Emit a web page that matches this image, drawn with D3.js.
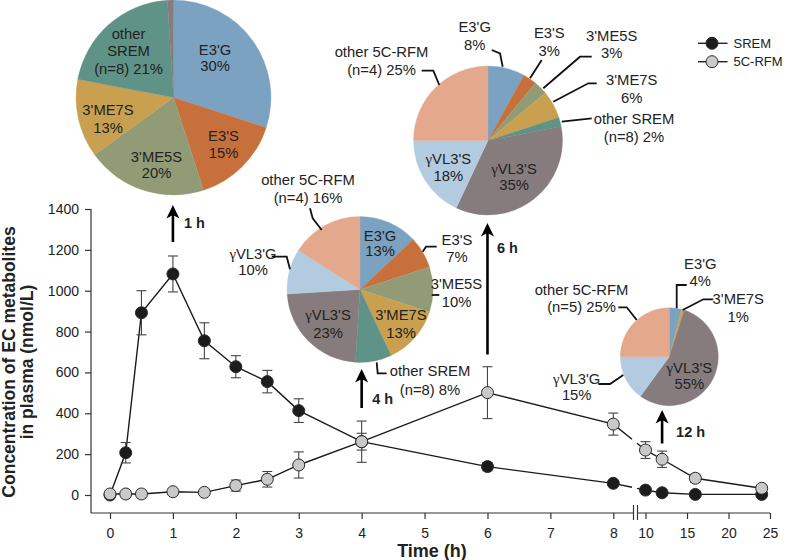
<!DOCTYPE html>
<html><head><meta charset="utf-8">
<script src="https://cdn.jsdelivr.net/npm/d3@7"></script>
<style>body{margin:0;background:#fff} text{font-family:"Liberation Sans",Arial,sans-serif;fill:#222}</style>
</head><body><svg id="c" width="787" height="560"></svg>
<script>
// ---------- DATA ----------
const timeH   = [0, 0.25, 0.5, 1, 1.5, 2, 2.5, 3, 4, 6, 8, 10, 12, 16, 24];
const sremMean = [0, 207, 892, 1082, 755, 628, 555, 413, 261, 139, 57, 24, 11, 3, 3];
const sremSD   = [0, 50, 108, 88, 88, 54, 55, 58, 41, 20, 12, 8, 5, 3, 3];
const rfmMean  = [5, 5, 5, 16, 13, 46, 77, 147, 261, 501, 347, 220, 175, 82, 33];
const rfmSD    = [0, 0, 0, 8, 8, 27, 38, 64, 101, 127, 54, 41, 40, 20, 8];

const yTicks  = [0, 200, 400, 600, 800, 1000, 1200, 1400];
const xTicksA = [0, 1, 2, 3, 4, 5, 6, 7, 8];
const xTicksB = [10, 15, 20, 25];

const metabolites = ["E3'G", "E3'S", "3'ME5S", "3'ME7S", "other SREM", "γVL3'S", "γVL3'G", "other 5C-RFM"];
const metaColors  = ["#7ca2c2", "#c8703c", "#919c76", "#c9a04f", "#5f9387", "#867c7d", "#b2cbe0", "#e4a88c"];

const pie1Keys   = ["E3'G", "E3'S", "3'ME5S", "3'ME7S", "other SREM", "γVL3'S"];
const pie1Values = [30, 15, 20, 13, 21, 1];
const pie4hKeys   = ["E3'G", "E3'S", "3'ME5S", "3'ME7S", "other SREM", "γVL3'S", "γVL3'G", "other 5C-RFM"];
const pie4hValues = [13, 7, 10, 13, 8, 23, 10, 16];
const pie6hKeys   = ["E3'G", "E3'S", "3'ME5S", "3'ME7S", "other SREM", "γVL3'S", "γVL3'G", "other 5C-RFM"];
const pie6hValues = [8, 3, 3, 6, 2, 35, 18, 25];
const pie12hKeys   = ["E3'G", "3'ME7S", "γVL3'S", "γVL3'G", "other 5C-RFM"];
const pie12hValues = [4, 1, 55, 15, 25];

const timepointLabels = ["1 h", "4 h", "6 h", "12 h"];
const timepoints = [1, 4, 6, 12];
const seriesNames = ["SREM", "5C-RFM"];

// ---------- SETUP ----------
const svg = d3.select("#c");
const color = d3.scaleOrdinal().domain(metabolites).range(metaColors);

const x1 = d3.scaleLinear().domain([0, 8]).range([110, 613.3]);
const x2 = d3.scaleLinear().domain([10, 25]).range([645.5, 770]);
const xPos = t => t <= 9 ? x1(t) : x2(t);
const y = d3.scaleLinear().domain([0, 1400]).range([495, 209]);
const axisY = 513, axisX = 91;
const brkL = 633.5, brkR = 637.5;

// ---------- AXES ----------
const ax = svg.append("g").attr("class", "axes");
const yAx = ax.append("g").attr("transform", `translate(${axisX},0)`)
  .call(d3.axisLeft(y).tickValues(yTicks).tickFormat(d3.format("d")).tickSize(6).tickPadding(6));
const xAxA = ax.append("g").attr("transform", `translate(0,${axisY})`)
  .call(d3.axisBottom(x1).tickValues(xTicksA).tickFormat(d3.format("d")).tickSize(6).tickPadding(9.5));
const xAxB = ax.append("g").attr("transform", `translate(0,${axisY})`)
  .call(d3.axisBottom(x2).tickValues(xTicksB).tickFormat(d3.format("d")).tickSize(6).tickPadding(9.5));
[yAx, xAxA, xAxB].forEach(g => {
  g.select(".domain").remove();
  g.selectAll(".tick line").attr("stroke", "#333").attr("stroke-width", 1.2);
  g.selectAll(".tick text").attr("font-size", 14).attr("fill", "#222")
   .attr("font-family", '"Liberation Sans",Arial,sans-serif');
});
const axLine = (x0, y0, x1_, y1_) => ax.append("line").attr("x1", x0).attr("y1", y0).attr("x2", x1_).attr("y2", y1_)
  .attr("stroke", "#333").attr("stroke-width", 1.2);
axLine(axisX, y(1400), axisX, axisY);
axLine(axisX, axisY, brkL, axisY);
axLine(brkR, axisY, x2(25), axisY);
axLine(brkL, axisY - 8, brkL, axisY + 7);
axLine(brkR, axisY - 8, brkR, axisY + 7);

// axis titles
svg.append("text").attr("transform", "translate(15,362) rotate(-90)")
  .attr("text-anchor", "middle").attr("font-weight", "bold").attr("font-size", 17.5).attr("fill", "#222")
  .text("Concentration of EC metabolites");
svg.append("text").attr("transform", "translate(33,362) rotate(-90)")
  .attr("text-anchor", "middle").attr("font-weight", "bold").attr("font-size", 17.5).attr("fill", "#222")
  .text("in plasma (nmol/L)");
svg.append("text").attr("x", 432).attr("y", 556.5).attr("text-anchor", "middle")
  .attr("font-weight", "bold").attr("font-size", 18).attr("fill", "#222").text("Time (h)");

// ---------- SERIES ----------
function seriesPts(means) { return timeH.map((t, i) => [xPos(t), y(means[i])]); }
function splitPath(pts) {
  const gL = 632, gR = 637;
  const segs = [[pts[0]]];
  for (let i = 1; i < pts.length; i++) {
    const a = pts[i - 1], b = pts[i];
    if (a[0] < gL && b[0] > gR) {
      const f = v => a[1] + (b[1] - a[1]) * (v - a[0]) / (b[0] - a[0]);
      segs[segs.length - 1].push([gL, f(gL)]);
      segs.push([[gR, f(gR)], b]);
    } else segs[segs.length - 1].push(b);
  }
  return segs;
}
const line = d3.line();
function drawLine(means) {
  splitPath(seriesPts(means)).forEach(s =>
    svg.append("path").attr("d", line(s)).attr("fill", "none").attr("stroke", "#1a1a1a").attr("stroke-width", 1.4));
}
function drawErr(means, sds) {
  const g = svg.append("g").attr("stroke", "#444").attr("stroke-width", 1.1);
  timeH.forEach((t, i) => {
    if (!sds[i]) return;
    const cx = xPos(t), yt = y(means[i] + sds[i]), yb = y(means[i] - sds[i]);
    g.append("line").attr("x1", cx).attr("x2", cx).attr("y1", yt).attr("y2", yb);
    g.append("line").attr("x1", cx - 5).attr("x2", cx + 5).attr("y1", yt).attr("y2", yt);
    g.append("line").attr("x1", cx - 5).attr("x2", cx + 5).attr("y1", yb).attr("y2", yb);
  });
}
function drawDots(means, fill) {
  svg.append("g").selectAll("circle").data(timeH).join("circle")
    .attr("cx", d => xPos(d)).attr("cy", (d, i) => y(means[i])).attr("r", 6)
    .attr("fill", fill).attr("stroke", "#2a2a2a").attr("stroke-width", 1);
}
drawLine(sremMean);
drawLine(rfmMean);
drawErr(sremMean, sremSD);
drawDots(sremMean, "#1c1c1c");
drawErr(rfmMean, rfmSD);
drawDots(rfmMean, "#c9c9c9");

// ---------- LEGEND ----------
const leg = svg.append("g");
seriesNames.forEach((nm, i) => {
  const ly = 43.3 + i * 18.4;
  leg.append("line").attr("x1", 698).attr("x2", 727.5).attr("y1", ly).attr("y2", ly).attr("stroke", "#222").attr("stroke-width", 1.4);
  leg.append("circle").attr("cx", 712).attr("cy", ly).attr("r", 6)
    .attr("fill", i === 0 ? "#1c1c1c" : "#c9c9c9").attr("stroke", "#2a2a2a");
  leg.append("text").attr("x", 733.5).attr("y", ly).attr("dy", "0.35em").attr("font-size", 13).text(nm);
});

// ---------- ARROWS ----------
const arrowLayout = [
  {top: 205, bot: 242, lx: 11, ly: 223},
  {top: 369, bot: 408, lx: 10.5, ly: 399},
  {top: 223, bot: 354.5, lx: 9.5, ly: 248.3},
  {top: 410, bot: 443.5, lx: 14, ly: 431.7}
];
timepoints.forEach((t, i) => {
  const L = arrowLayout[i], ax_ = xPos(t);
  svg.append("line").attr("x1", ax_).attr("x2", ax_).attr("y1", L.top + 8).attr("y2", L.bot)
    .attr("stroke", "#000").attr("stroke-width", 2.6);
  svg.append("path").attr("d", `M${ax_},${L.top} L${ax_ + 6.5},${L.top + 13.5} L${ax_},${L.top + 10} L${ax_ - 6.5},${L.top + 13.5} Z`)
    .attr("fill", "#000");
  svg.append("text").attr("x", ax_ + L.lx).attr("y", L.ly).attr("dy", "0.35em")
    .attr("font-weight", "bold").attr("font-size", 14.5).attr("fill", "#111").text(timepointLabels[i]);
});

// ---------- PIES ----------
function addLabelText(g, lab) {
  lab.t.forEach((str, j) => {
    const tx = g.append("text").attr("x", lab.dx).attr("y", lab.dy + j * lab.gap).attr("dy", "0.35em")
      .attr("text-anchor", "middle").attr("font-size", 14.8).attr("fill", "#262626");
    if (str.startsWith("γ")) {
      tx.append("tspan").attr("font-family", '"Liberation Serif","Times New Roman",serif').text("γ");
      tx.append("tspan").text(str.slice(1));
    } else tx.text(str);
  });
  if (lab.leader) {
    g.append("path").attr("d", d3.line()(lab.leader)).attr("fill", "none")
      .attr("stroke", "#111").attr("stroke-width", 1.8);
  }
}
function drawPie(cfg) {
  const g = svg.append("g").attr("transform", `translate(${cfg.cx},${cfg.cy})`);
  const arcs = d3.pie().sort(null).value(d => d.v)(cfg.keys.map((k, i) => ({k, v: cfg.values[i]})));
  const arc = d3.arc().innerRadius(0).outerRadius(cfg.r);
  g.selectAll("path.sl").data(arcs).join("path").attr("class", "sl").attr("d", arc)
    .attr("fill", d => color(d.data.k)).attr("stroke", d => color(d.data.k)).attr("stroke-width", 0.3);
  cfg.labels.forEach(l => addLabelText(g, l));
}

drawPie({cx: 173.5, cy: 97.5, r: 97.5, keys: pie1Keys, values: pie1Values, labels: [
  {t: ["other", "SREM", "(n=8) 21%"], dx: -45, dy: -64, gap: 17.5},
  {t: ["E3'G", "30%"], dx: 41.5, dy: -48, gap: 16.7},
  {t: ["E3'S", "15%"], dx: 50, dy: 38.5, gap: 17.3},
  {t: ["3'ME5S", "20%"], dx: -17, dy: 59, gap: 16.7},
  {t: ["3'ME7S", "13%"], dx: -65.5, dy: 12.5, gap: 18}
]});

drawPie({cx: 360, cy: 289.5, r: 73, keys: pie4hKeys, values: pie4hValues, labels: [
  {t: ["E3'G", "13%"], dx: 20, dy: -53.5, gap: 14.5},
  {t: ["E3'S", "7%"], dx: 97, dy: -49.5, gap: 17.3, leader: [[62.7, -37.8], [66, -42.8], [76.7, -42.8]]},
  {t: ["3'ME5S", "10%"], dx: 96.5, dy: -6, gap: 18, leader: [[71.7, 5.5], [79.3, 5.5]]},
  {t: ["3'ME7S", "13%"], dx: 41, dy: 25.5, gap: 17.7},
  {t: ["other SREM", "(n=8) 8%"], dx: 70, dy: 81, gap: 19.5, leader: [[16.7, 72.8], [17.7, 83.8], [26.7, 83.8]]},
  {t: ["γVL3'S", "23%"], dx: -32, dy: 25.5, gap: 17.7},
  {t: ["γVL3'G", "10%"], dx: -107, dy: -35.5, gap: 16, leader: [[-88.3, -32.8], [-73.3, -32.8], [-70, -20.2]]},
  {t: ["other 5C-RFM", "(n=4) 16%"], dx: -52, dy: -109.5, gap: 17.7, leader: [[-50, -81.2], [-47.3, -71.2], [-38.3, -59.5]]}
]});

drawPie({cx: 488, cy: 140.5, r: 74.5, keys: pie6hKeys, values: pie6hValues, labels: [
  {t: ["E3'G", "8%"], dx: -13.3, dy: -113.2, gap: 17.7, leader: [[3.7, -90.5], [12, -87.2], [14.7, -73.8]]},
  {t: ["E3'S", "3%"], dx: 61.3, dy: -107.2, gap: 17.4, leader: [[53.7, -80.5], [42, -62.2]]},
  {t: ["3'ME5S", "3%"], dx: 123.7, dy: -104.5, gap: 17.3, leader: [[103.7, -83.8], [92, -83.8], [55.3, -52.2]]},
  {t: ["3'ME7S", "6%"], dx: 143.7, dy: -60.5, gap: 18.3, leader: [[108.7, -57.2], [100.3, -57.2], [65.3, -38.8]]},
  {t: ["other SREM", "(n=8) 2%"], dx: 146, dy: -21.2, gap: 17.4, leader: [[103.7, -22.2], [73.7, -18.8]]},
  {t: ["γVL3'S", "35%"], dx: 26, dy: 28, gap: 16.5},
  {t: ["γVL3'S", "18%"], dx: -39.7, dy: 18.8, gap: 16.7},
  {t: ["other 5C-RFM", "(n=4) 25%"], dx: -106.5, dy: -88.8, gap: 18.3, leader: [[-66.3, -69.8], [-54.7, -69.8], [-48.7, -55.5]]}
]});

drawPie({cx: 669.3, cy: 356.7, r: 49, keys: pie12hKeys, values: pie12hValues, labels: [
  {t: ["E3'G", "4%"], dx: 31, dy: -92.7, gap: 16.7, leader: [[17.4, -71.7], [7.4, -71.7], [7.4, -48.4]]},
  {t: ["3'ME7S", "1%"], dx: 69, dy: -57.4, gap: 17.4, leader: [[44, -57.4], [34, -57.4], [13.4, -46.7]]},
  {t: ["γVL3'S", "55%"], dx: 20, dy: 11, gap: 16.3},
  {t: ["γVL3'G", "15%"], dx: -92.6, dy: 22.6, gap: 15.7, leader: [[-71, 27.3], [-59.3, 27.3], [-46, 18.3]]},
  {t: ["other 5C-RFM", "(n=5) 25%"], dx: -87.8, dy: -66.7, gap: 17.3, leader: [[-51, -49.4], [-42.6, -49.4], [-32.6, -36.7]]}
]});
</script></body></html>
